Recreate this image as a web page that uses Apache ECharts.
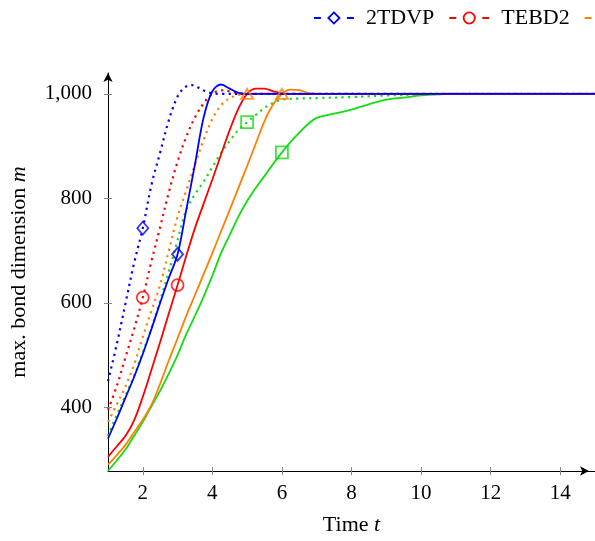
<!DOCTYPE html>
<html><head><meta charset="utf-8">
<script src="https://cdn.jsdelivr.net/npm/echarts@6/dist/echarts.min.js"></script>
<style>html,body{margin:0;padding:0;background:#fff}#c{width:595px;height:541px}</style>
</head><body><div id="c"></div>
<script>
// ---- data ----
const xTicks = [2, 4, 6, 8, 10, 12, 14];
const yTicks = [400, 600, 800, 1000];
const legendNames = ['2TDVP', 'TEBD2', 'TDVP'];

const tdvp2Dotted = [[1,450],[1.25,520],[1.5,598],[1.75,676],[2,743],[2.25,826],[2.5,888],[2.75,950],[3,995],[3.2,1012],[3.4,1017],[3.6,1012],[3.8,1005],[4,1001],[4.25,1000],[5,1000],[8,1000],[15,1000]];
const tdvp2Solid = [[1,340],[1.25,378],[1.5,418],[1.75,458],[2,502],[2.25,550],[2.5,600],[2.75,648],[3,693],[3.25,778],[3.5,865],[3.75,955],[4,1005],[4.25,1018],[4.5,1010],[4.75,1002],[5,1000],[6,1000],[10,1000],[15,1000]];
const tebd2Dotted = [[1,395],[1.25,440],[1.5,495],[1.75,550],[2,610],[2.25,680],[2.5,745],[2.75,812],[3,870],[3.25,918],[3.5,955],[3.75,982],[4,1000],[4.25,1007],[4.5,1005],[4.75,1001],[5,1000],[6,1000],[10,1000],[15,1000]];
const tebd2Solid = [[1,305],[1.25,325],[1.5,345],[1.75,375],[2,420],[2.25,472],[2.5,525],[2.75,580],[3,634],[3.25,690],[3.5,743],[3.75,790],[4,836],[4.25,884],[4.5,931],[4.75,972],[5,1000],[5.25,1010],[5.5,1010],[5.75,1005],[6,1001],[6.25,1000],[7,1000],[10,1000],[15,1000]];
const orangeDotted = [[1,372],[1.25,405],[1.5,440],[1.75,482],[2,535],[2.25,585],[2.5,635],[2.75,700],[3,765],[3.25,815],[3.5,865],[3.75,912],[4,952],[4.25,978],[4.5,992],[4.75,998],[5,1000],[6,1000],[10,1000],[15,1000]];
const orangeSolid = [[1,290],[1.25,308],[1.5,328],[1.75,352],[2,376],[2.25,405],[2.5,445],[2.75,490],[3,532],[3.25,575],[3.5,615],[3.75,655],[4,695],[4.25,737],[4.5,778],[4.75,820],[5,862],[5.25,905],[5.5,948],[5.75,980],[6,1000],[6.25,1008],[6.5,1007],[6.75,1002],[7,1000],[8,1000],[11,1000],[15,1000]];
const greenDotted = [[1,345],[1.25,385],[1.5,422],[1.75,460],[2,505],[2.25,552],[2.5,605],[2.75,660],[3,720],[3.25,778],[3.5,808],[3.75,832],[4,860],[4.25,887],[4.5,910],[4.75,931],[5,946],[5.25,960],[5.5,973],[5.75,983],[6,989],[6.5,991],[7,992],[8,994],[9,997],[10,999],[11,1000],[15,1000]];
const greenSolid = [[1,278],[1.25,298],[1.5,319],[1.75,345],[2,372],[2.25,402],[2.5,432],[2.75,465],[3,500],[3.25,540],[3.5,575],[3.75,612],[4,652],[4.25,695],[4.5,730],[4.75,765],[5,795],[5.25,820],[5.5,843],[5.75,866],[6,888],[6.25,908],[6.5,926],[6.75,942],[7,954],[7.5,962],[8,970],[8.5,980],[9,989],[9.5,993],[10,997],[10.5,999],[11,1000],[13,1000],[15,1000]];

// marker positions (x value where a marker sits on each curve)
const markerX = { tdvp2Dotted: 2, tdvp2Solid: 3, tebd2Dotted: 2, tebd2Solid: 3, orangeDotted: 5, orangeSolid: 6, greenDotted: 5, greenSolid: 6 };

// ---- styling ----
const F = 'Liberation Serif';
const BLUE = '#0000ff', RED = '#ff0000', ORANGE = '#ff8000', GREEN = '#11dd11';
const curves = [
  { key: 'greenDotted', data: greenDotted, color: GREEN, dotted: true, sym: 'rect' },
  { key: 'orangeDotted', data: orangeDotted, color: ORANGE, dotted: true, sym: 'triangle' },
  { key: 'tebd2Dotted', data: tebd2Dotted, color: RED, dotted: true, sym: 'circle' },
  { key: 'tdvp2Dotted', data: tdvp2Dotted, color: BLUE, dotted: true, sym: 'diamond' },
  { key: 'greenSolid', data: greenSolid, color: GREEN, dotted: false, sym: 'rect' },
  { key: 'orangeSolid', data: orangeSolid, color: ORANGE, dotted: false, sym: 'triangle' },
  { key: 'tebd2Solid', data: tebd2Solid, color: RED, dotted: false, sym: 'circle' },
  { key: 'tdvp2Solid', data: tdvp2Solid, color: BLUE, dotted: false, sym: 'diamond' }
];
const symSize = { diamond: [11, 13], circle: 12, triangle: [12, 10], rect: 12 };

const series = [];
curves.forEach(c => {
  series.push({
    name: c.key, type: 'line', data: c.data, showSymbol: false, symbol: 'none',
    smooth: 0.35, silent: true, z: 2,
    lineStyle: { color: c.color, width: c.dotted ? 2.2 : 1.8, type: c.dotted ? [2.2, 4.3] : 'solid', cap: 'butt' }
  });
});
curves.forEach(c => {
  series.push({
    name: c.key + 'M', type: 'scatter', z: 5, silent: true,
    data: c.data.filter(p => p[0] === markerX[c.key]),
    symbol: c.sym, symbolSize: symSize[c.sym],
    itemStyle: { color: 'rgba(0,0,0,0)', borderColor: c.color, borderWidth: 1.8 }
  });
});
const legendColors = [BLUE, RED, ORANGE];
const legendSyms = ['diamond', 'circle', 'triangle'];
legendNames.forEach((n, i) => {
  series.push({ name: n, type: 'line', data: [], symbol: legendSyms[i], lineStyle: { color: legendColors[i] } });
});

const tickStyle = { color: '#888', width: 1 };
const labelStyle = { fontFamily: F, fontSize: 21, color: '#000' };
const nameStyle = {
  fontFamily: F, fontSize: 22, color: '#000',
  rich: { a: { fontFamily: F, fontSize: 22, color: '#000' }, i: { fontFamily: F, fontSize: 22, color: '#000', fontStyle: 'italic' } }
};

const option = {
  animation: false,
  backgroundColor: '#fff',
  grid: { left: 106, right: 0, top: 73, bottom: 68, containLabel: false },
  legend: {
    left: 313, top: 7, width: 2000, padding: 0, itemWidth: 40, itemHeight: 14, itemGap: 14,
    selectedMode: false,
    textStyle: { fontFamily: F, fontSize: 22, color: '#000', padding: [0, 0, 0, 7] },
    data: legendNames.map((n, i) => ({
      name: n,
      itemStyle: { color: 'rgba(0,0,0,0)', borderColor: legendColors[i], borderWidth: 1.8 },
      lineStyle: { color: legendColors[i], width: 1.8, type: [7, 26], opacity: 1 }
    }))
  },
  xAxis: [
    {
      type: 'value', min: 1, max: 15, position: 'bottom',
      axisLine: { show: true, onZero: false, lineStyle: { color: '#000', width: 1 }, symbol: ['none', 'arrow'], symbolSize: [7, 9], symbolOffset: [0, -6] },
      axisTick: { show: true, customValues: xTicks, length: 4, lineStyle: tickStyle },
      axisLabel: { customValues: xTicks, margin: 12, ...labelStyle },
      splitLine: { show: false },
      name: '{a|Time }{i|t}', nameLocation: 'middle', nameGap: 43, nameTextStyle: nameStyle
    },
    {
      type: 'value', min: 1, max: 15, position: 'bottom',
      axisLine: { show: false, onZero: false },
      axisTick: { show: true, inside: true, customValues: xTicks, length: 4, lineStyle: tickStyle },
      axisLabel: { show: false }, splitLine: { show: false }
    }
  ],
  yAxis: [
    {
      type: 'value', min: 278, max: 1040, position: 'left',
      axisLine: { show: true, onZero: false, lineStyle: { color: '#000', width: 1 }, symbol: ['none', 'arrow'], symbolSize: [7, 9] },
      axisTick: { show: true, customValues: yTicks, length: 4, lineStyle: tickStyle },
      axisLabel: { customValues: yTicks, margin: 16, formatter: v => v.toLocaleString('en-US'), ...labelStyle },
      splitLine: { show: false },
      name: '{a|max. bond dimension }{i|m}', nameLocation: 'middle', nameGap: 78, nameTextStyle: nameStyle
    },
    {
      type: 'value', min: 278, max: 1040, position: 'left',
      axisLine: { show: false, onZero: false },
      axisTick: { show: true, inside: true, customValues: yTicks, length: 4, lineStyle: tickStyle },
      axisLabel: { show: false }, splitLine: { show: false }
    }
  ],
  series: series
};
const chart = echarts.init(document.getElementById('c'), null, { renderer: 'canvas' });
chart.setOption(option);
</script>
</body></html>
